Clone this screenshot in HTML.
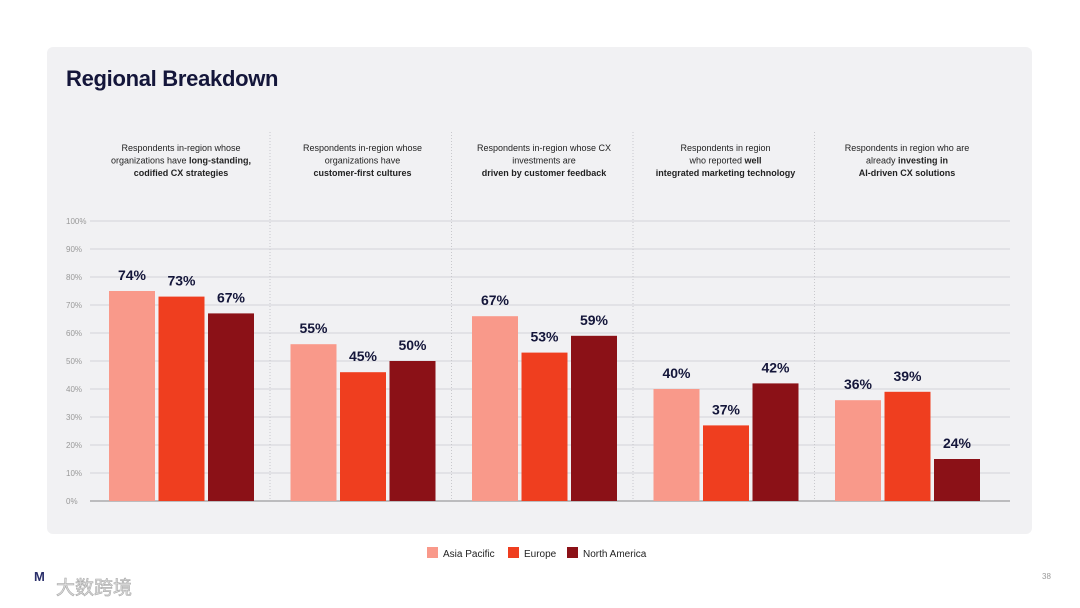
<!DOCTYPE html>
<html><head><meta charset="utf-8">
<style>
body{margin:0;width:1080px;height:608px;background:#fff;font-family:"Liberation Sans",sans-serif;position:relative;overflow:hidden}
#panel{position:absolute;left:47px;top:47px;width:985px;height:487px;background:#f1f1f3;border-radius:6px}
h1{position:absolute;left:66px;top:66px;margin:0;font-size:22px;font-weight:bold;color:#14163a;letter-spacing:-0.3px}
svg{position:absolute;left:0;top:0}
</style></head><body>
<div id="panel"></div>
<h1>Regional Breakdown</h1>
<svg id="chart" width="1080" height="608"></svg>
<script>
const categories=[
 ["Respondents in-region whose|","organizations have |long-standing,","|codified CX strategies"],
 ["Respondents in-region whose|","organizations have|","|customer-first cultures"],
 ["Respondents in-region whose CX|","investments are|","|driven by customer feedback"],
 ["Respondents in region|","who reported |well","|integrated marketing technology"],
 ["Respondents in region who are|","already |investing in","|AI-driven CX solutions"]
];
const series=["Asia Pacific","Europe","North America"];
const colors=["#f9998a","#ef3e1f","#8b1117"];
const asiaPacific=[75,56,66,40,36];
const europe=[73,46,53,27,39];
const northAmerica=[67,50,59,42,15];
const asiaLabels=["74%","55%","67%","40%","36%"];
const europeLabels=["73%","45%","53%","37%","39%"];
const naLabels=["67%","50%","59%","42%","24%"];
const ticks=[0,10,20,30,40,50,60,70,80,90,100];

const NS="http://www.w3.org/2000/svg";
const svg=document.getElementById('chart');
function mk(t,a,p){const e=document.createElementNS(NS,t);for(const k in a)e.setAttribute(k,a[k]);(p||svg).appendChild(e);return e;}
const y0=501,yTop=221;
const y=v=>y0-(v/100)*(y0-yTop);
const groupX=i=>109+i*181.5;
const barX=(g,s)=>groupX(g)+s*49.5;
const bw=46;

ticks.forEach(t=>{
 const l=mk('line',{x1:90,x2:1010,y1:y(t),y2:y(t),stroke:t===0?'#888':'#d4d4d8','stroke-width':1});
 
 
 const tx=mk('text',{x:66,y:y(t)+3,'font-size':8,fill:'#999'});
 tx.textContent=t+'%';
 
 
});
[0,1,2,3].forEach(i=>{
 const x=groupX(i)+161;
 const d=mk('line',{x1:x,x2:x,y1:132,y2:500,stroke:'#c8c8cc','stroke-dasharray':'1,2'});
 
 
});
categories.forEach((lines,g)=>{
 const cx=groupX(g)+72;
 lines.forEach((ln,j)=>{
  const t=mk('text',{x:cx,y:151+j*12.5,'font-size':9,'text-anchor':'middle',fill:'#222'});
  
  
  const parts=ln.split('|');
  const a=mk('tspan',{},t);a.textContent=parts[0];
  if(parts[1]){const b=mk('tspan',{'font-weight':'bold'},t);b.textContent=parts[1];}
 });
});
const vals=[asiaPacific,europe,northAmerica];
const labs=[asiaLabels,europeLabels,naLabels];
vals.forEach((arr,s)=>{
 arr.forEach((v,g)=>{
  const r=mk('rect',{x:barX(g,s),y:y(v),width:bw,height:y0-y(v),fill:colors[s]});
  
  
  const t=mk('text',{x:barX(g,s)+bw/2,y:y(v)-11,'font-size':14,'font-weight':'bold','text-anchor':'middle',fill:'#14163a'});
  t.textContent=labs[s][g];
  
  
 });
});
const lx=[427,508,567];
series.forEach((s,i)=>{
 const r=mk('rect',{x:lx[i],y:547,width:11,height:11,fill:colors[i]});
 
 
 const t=mk('text',{x:lx[i]+16,y:557,'font-size':10,fill:'#222'});
 t.textContent=s;
 
 
});
const pn=mk('text',{x:1042,y:579,'font-size':8,fill:'#999'});pn.textContent='38';


const wm=mk('text',{x:56,y:594,'font-size':19,fill:'#ddd','font-family':'"Noto Sans CJK SC",sans-serif',stroke:'#aaa','stroke-width':0.6});
wm.textContent='大数跨境';


const wl=mk('text',{x:34,y:581,'font-size':13,'font-weight':'bold',fill:'#2a2f6a'});wl.textContent='M';


</script>
</body></html>
